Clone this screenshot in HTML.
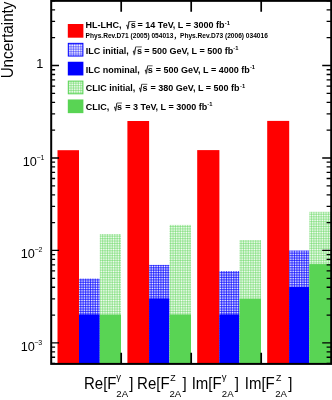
<!DOCTYPE html>
<html><head><meta charset="utf-8"><style>
html,body{margin:0;padding:0;background:#fff;}
body{width:332px;height:400px;overflow:hidden;position:relative;}
svg{position:absolute;left:0;top:0;}
text{font-family:"Liberation Sans",Arial,Helvetica,sans-serif;}
.lg{font-weight:bold;}
.cjk{font-family:"Liberation Sans","Noto Sans CJK SC",sans-serif;}
</style></head><body>
<svg width="332" height="400" viewBox="0 0 332 400">
<defs>
<pattern id="hb" width="1.7" height="1.7" patternUnits="userSpaceOnUse">
<rect width="1.7" height="1.7" fill="#fff"/><rect width="0.58" height="1.7" fill="#00f"/><rect width="1.7" height="0.58" fill="#00f"/>
</pattern>
<pattern id="hg" width="1.7" height="1.7" patternUnits="userSpaceOnUse">
<rect width="1.7" height="1.7" fill="#fff"/><rect width="0.42" height="1.7" fill="#59d454"/><rect width="1.7" height="0.42" fill="#59d454"/>
</pattern>
<pattern id="hbl" width="1.7" height="1.7" patternUnits="userSpaceOnUse">
<rect width="1.7" height="1.7" fill="#fff"/><rect width="0.36" height="1.7" fill="#00f"/><rect width="1.7" height="0.36" fill="#00f"/>
</pattern>
</defs>

<rect x="57.50" y="150.20" width="21.50" height="213.20" fill="#ff0000"/>
<rect x="79.00" y="278.60" width="20.80" height="84.80" fill="url(#hb)"/>
<rect x="79.00" y="314.50" width="20.80" height="48.90" fill="#0000ff"/>
<rect x="99.80" y="234.00" width="21.20" height="129.40" fill="url(#hg)"/>
<rect x="99.80" y="314.60" width="21.20" height="48.80" fill="#59d454"/>
<rect x="127.40" y="121.00" width="21.70" height="242.40" fill="#ff0000"/>
<rect x="149.10" y="264.90" width="20.40" height="98.50" fill="url(#hb)"/>
<rect x="149.10" y="298.50" width="20.40" height="64.90" fill="#0000ff"/>
<rect x="169.50" y="224.90" width="21.50" height="138.50" fill="url(#hg)"/>
<rect x="169.50" y="314.50" width="21.50" height="48.90" fill="#59d454"/>
<rect x="197.20" y="150.10" width="22.20" height="213.30" fill="#ff0000"/>
<rect x="219.40" y="271.00" width="20.10" height="92.40" fill="url(#hb)"/>
<rect x="219.40" y="314.50" width="20.10" height="48.90" fill="#0000ff"/>
<rect x="239.50" y="240.10" width="21.50" height="123.30" fill="url(#hg)"/>
<rect x="239.50" y="298.70" width="21.50" height="64.70" fill="#59d454"/>
<rect x="267.20" y="120.90" width="22.00" height="242.50" fill="#ff0000"/>
<rect x="289.20" y="250.50" width="20.10" height="112.90" fill="url(#hb)"/>
<rect x="289.20" y="287.00" width="20.10" height="76.40" fill="#0000ff"/>
<rect x="309.30" y="211.80" width="21.90" height="151.60" fill="url(#hg)"/>
<rect x="309.30" y="264.10" width="21.90" height="99.30" fill="#59d454"/>
<path d="M51.2 363.44H55.10M331.2 363.44H326.60M51.2 357.25H55.10M331.2 357.25H326.60M51.2 351.89H55.10M331.2 351.89H326.60M51.2 347.16H55.10M331.2 347.16H326.60M51.2 342.93H59.00M331.2 342.93H322.20M51.2 315.09H55.10M331.2 315.09H326.60M51.2 298.81H55.10M331.2 298.81H326.60M51.2 287.26H55.10M331.2 287.26H326.60M51.2 278.30H55.10M331.2 278.30H326.60M51.2 270.97H55.10M331.2 270.97H326.60M51.2 264.78H55.10M331.2 264.78H326.60M51.2 259.42H55.10M331.2 259.42H326.60M51.2 254.69H55.10M331.2 254.69H326.60M51.2 250.46H59.00M331.2 250.46H322.20M51.2 222.62H55.10M331.2 222.62H326.60M51.2 206.34H55.10M331.2 206.34H326.60M51.2 194.79H55.10M331.2 194.79H326.60M51.2 185.83H55.10M331.2 185.83H326.60M51.2 178.50H55.10M331.2 178.50H326.60M51.2 172.31H55.10M331.2 172.31H326.60M51.2 166.95H55.10M331.2 166.95H326.60M51.2 162.22H55.10M331.2 162.22H326.60M51.2 157.99H59.00M331.2 157.99H322.20M51.2 130.15H55.10M331.2 130.15H326.60M51.2 113.87H55.10M331.2 113.87H326.60M51.2 102.32H55.10M331.2 102.32H326.60M51.2 93.36H55.10M331.2 93.36H326.60M51.2 86.03H55.10M331.2 86.03H326.60M51.2 79.84H55.10M331.2 79.84H326.60M51.2 74.48H55.10M331.2 74.48H326.60M51.2 69.75H55.10M331.2 69.75H326.60M51.2 65.52H59.00M331.2 65.52H322.20M51.2 37.68H55.10M331.2 37.68H326.60M51.2 21.40H55.10M331.2 21.40H326.60M51.2 9.85H55.10M331.2 9.85H326.60M51.2 0.89H55.10M331.2 0.89H326.60" stroke="#000" stroke-width="1.3" fill="none"/>
<path d="M121.20 0.85V11.7M121.20 363.9V352.7M191.20 0.85V11.7M191.20 363.9V352.7M261.20 0.85V11.7M261.20 363.9V352.7" stroke="#000" stroke-width="1.7" fill="none"/>
<rect x="51.2" y="0.85" width="280.0" height="363.04999999999995" fill="none" stroke="#000" stroke-width="2"/>
<text x="36.25" y="67.6" font-size="12.7">1</text>
<text x="22.75" y="166.0" font-size="12.7">10<tspan font-size="7.0" dy="-6.2" dx="-0.5">−1</tspan></text>
<text x="20.75" y="258.4" font-size="12.7">10<tspan font-size="7.0" dy="-6.2" dx="-0.5">−2</tspan></text>
<text x="20.65" y="350.8" font-size="12.7">10<tspan font-size="7.0" dy="-6.2" dx="-0.5">−3</tspan></text>
<text transform="translate(13.4,78.34) rotate(-90) scale(1,1.03)" font-size="15.2">Uncertainty</text>
<text transform="translate(84.00,388.6) scale(1,1.08)" font-size="15.0">Re[F</text>
<text x="116.20" y="380" font-size="9.6">γ</text>
<text x="116.32" y="397" font-size="9.6">2A</text>
<text transform="translate(129.25,388.6) scale(1,1.08)" font-size="15.0">]</text>
<text transform="translate(137.10,388.6) scale(1,1.08)" font-size="15.0">Re[F</text>
<text x="170.20" y="381.4" font-size="8.8">Z</text>
<text x="169.52" y="397" font-size="9.6">2A</text>
<text transform="translate(182.45,388.6) scale(1,1.08)" font-size="15.0">]</text>
<text transform="translate(191.65,388.6) scale(1,1.08)" font-size="15.0">Im[F</text>
<text x="221.70" y="380" font-size="9.6">γ</text>
<text x="221.82" y="397" font-size="9.6">2A</text>
<text transform="translate(234.75,388.6) scale(1,1.08)" font-size="15.0">]</text>
<text transform="translate(244.75,388.6) scale(1,1.08)" font-size="15.0">Im[F</text>
<text x="275.90" y="381.4" font-size="8.8">Z</text>
<text x="275.22" y="397" font-size="9.6">2A</text>
<text transform="translate(288.15,388.6) scale(1,1.08)" font-size="15.0">]</text>
<rect x="67.8" y="24.00" width="15.6" height="13.7" fill="#ff0000"/>
<rect x="68.3" y="43.35" width="14.6" height="12.7" fill="url(#hbl)" stroke="#0000ff" stroke-width="1"/>
<rect x="67.8" y="61.75" width="15.6" height="13.7" fill="#0000ff"/>
<rect x="68.3" y="81.10" width="14.6" height="12.7" fill="url(#hg)" stroke="#59d454" stroke-width="1"/>
<rect x="67.8" y="99.45" width="15.6" height="13.7" fill="#59d454"/>
<g class="lg" font-size="9.0">
<text x="85.62" y="28.3">HL-LHC,</text>
<text transform="translate(126.30,29.30) scale(0.5,1)" font-size="8.6" stroke="#000" stroke-width="0.25" style="font-family:'DejaVu Sans',sans-serif">√</text>
<path d="M128.10 29.20L129.10 21.50H135.52" stroke="#000" stroke-width="0.65" fill="none"/>
<text x="130.69" y="28.3">s</text>
<text x="137.54" y="28.3">= 14 TeV, L = 3000 fb</text>
<text x="224.75" y="24.70" font-size="5.8">-1</text>
<text class="cjk" x="85.57" y="38.0" font-size="6.6">Phys.Rev.D71 (2005) 054013，Phys.Rev.D73 (2006) 034016</text>
<text x="85.72" y="53.7">ILC initial,</text>
<text transform="translate(132.80,54.70) scale(0.5,1)" font-size="8.6" stroke="#000" stroke-width="0.25" style="font-family:'DejaVu Sans',sans-serif">√</text>
<path d="M134.60 54.60L135.60 46.90H141.82" stroke="#000" stroke-width="0.65" fill="none"/>
<text x="136.99" y="53.7">s</text>
<text x="144.14" y="53.7">= 500 GeV, L = 500 fb</text>
<text x="233.25" y="50.10" font-size="5.8">-1</text>
<text x="85.72" y="72.6">ILC nominal,</text>
<text transform="translate(144.80,73.60) scale(0.5,1)" font-size="8.6" stroke="#000" stroke-width="0.25" style="font-family:'DejaVu Sans',sans-serif">√</text>
<path d="M146.60 73.50L147.60 65.80H152.62" stroke="#000" stroke-width="0.65" fill="none"/>
<text x="147.78" y="72.6">s</text>
<text x="155.64" y="72.6">= 500 GeV, L = 4000 fb</text>
<text x="249.95" y="69.00" font-size="5.8">-1</text>
<text x="85.84" y="91.1">CLIC initial,</text>
<text transform="translate(138.90,92.10) scale(0.5,1)" font-size="8.6" stroke="#000" stroke-width="0.25" style="font-family:'DejaVu Sans',sans-serif">√</text>
<path d="M140.70 92.00L141.70 84.30H147.32" stroke="#000" stroke-width="0.65" fill="none"/>
<text x="142.49" y="91.1">s</text>
<text x="150.44" y="91.1">= 380 GeV, L = 500 fb</text>
<text x="240.05" y="87.50" font-size="5.8">-1</text>
<text x="85.84" y="109.8">CLIC,</text>
<text transform="translate(114.10,110.80) scale(0.5,1)" font-size="8.6" stroke="#000" stroke-width="0.25" style="font-family:'DejaVu Sans',sans-serif">√</text>
<path d="M115.90 110.70L116.90 103.00H121.92" stroke="#000" stroke-width="0.65" fill="none"/>
<text x="117.09" y="109.8">s</text>
<text x="125.34" y="109.8">= 3 TeV, L = 3000 fb</text>
<text x="207.35" y="106.20" font-size="5.8">-1</text>
</g>
</svg></body></html>
